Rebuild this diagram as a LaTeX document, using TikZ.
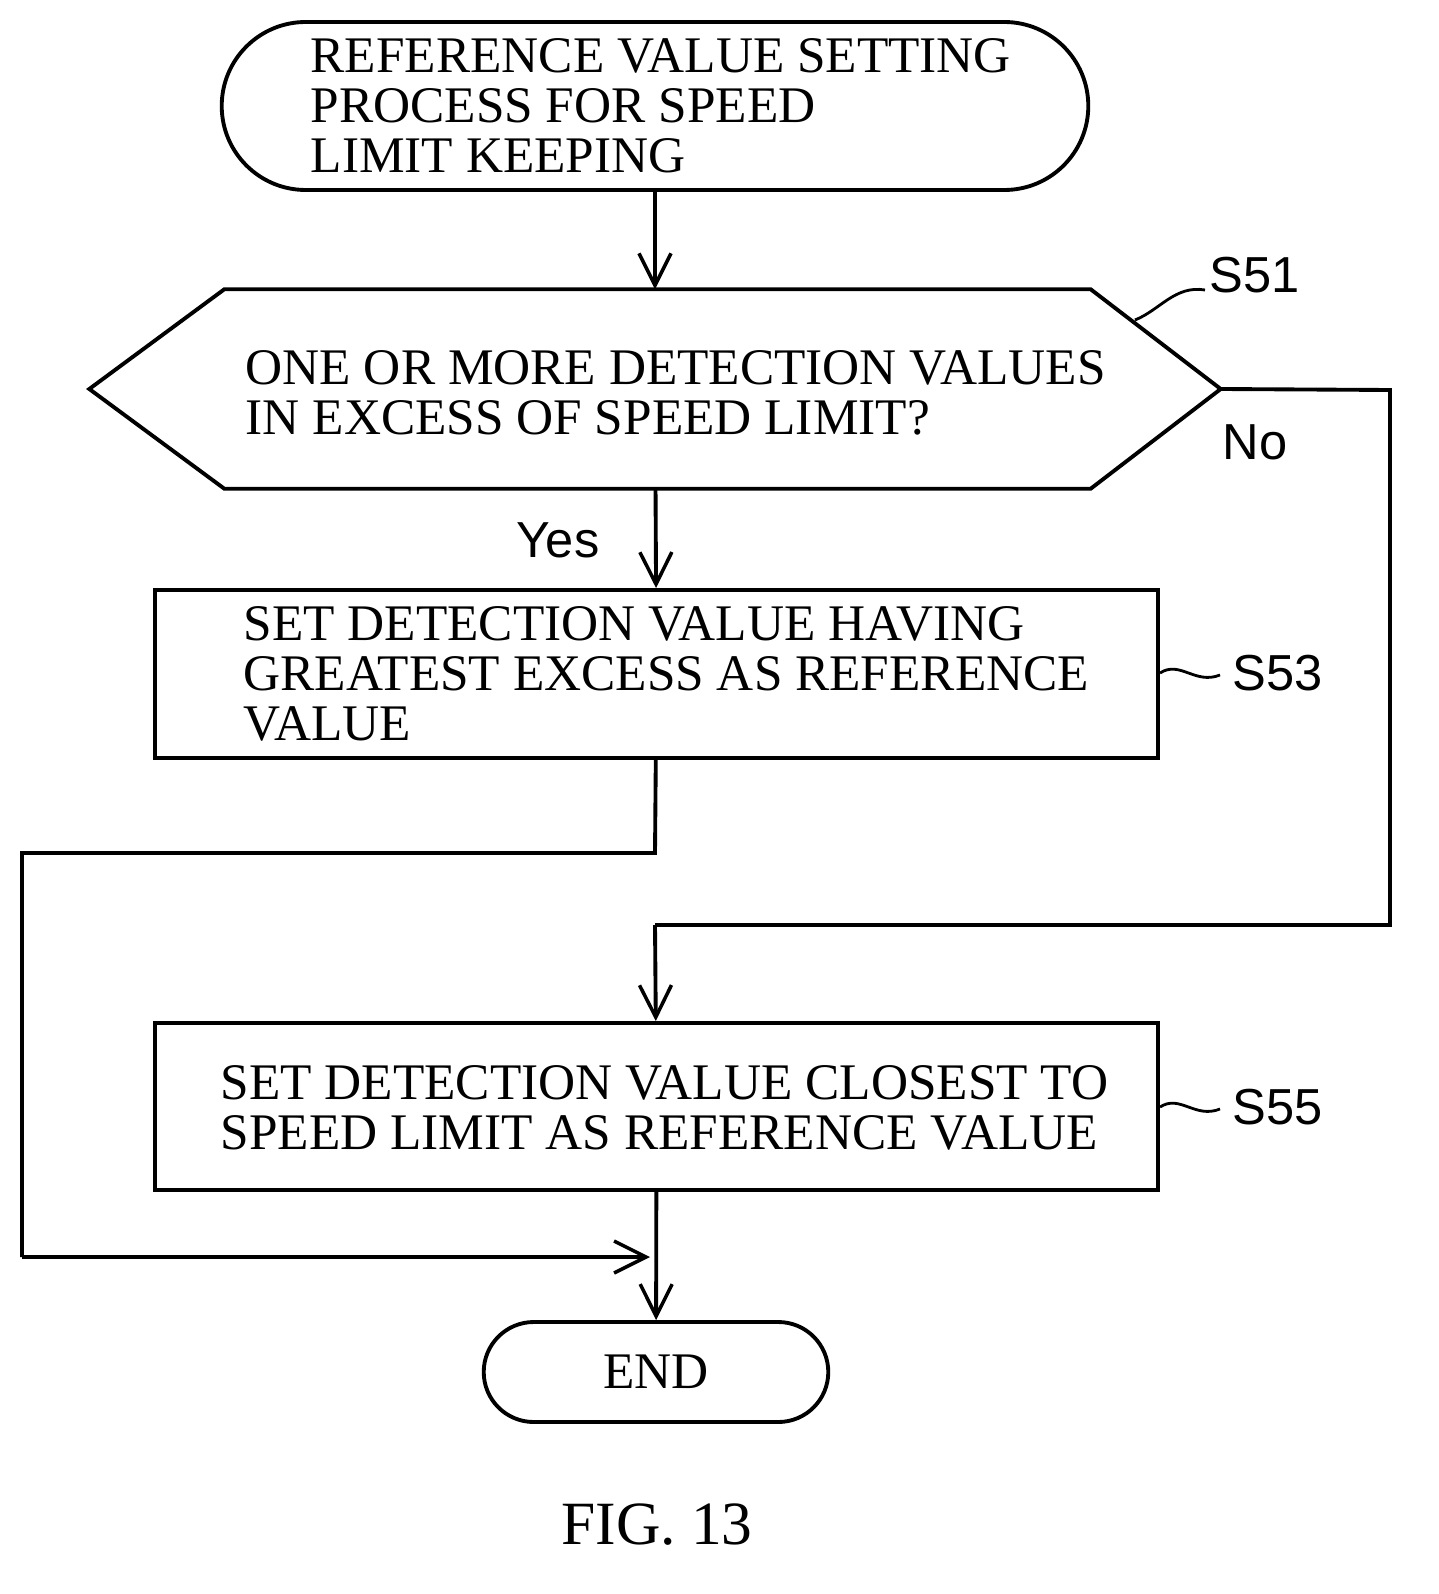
\documentclass[tikz,border=0pt]{standalone}
\usepackage{fontspec}
\setmainfont{Liberation Serif}
\newfontfamily\labfont{Liberation Sans}
\usetikzlibrary{shapes.misc,arrows.meta}
\tikzset{
  flow/.style={draw, line width=1.1pt},
  term/.style={flow, rounded rectangle},
  proc/.style={flow, rectangle},
  txt/.style={anchor=west, align=left, inner sep=0pt, font=\fontsize{14.6}{14.3}\selectfont},
  lab/.style={inner sep=0pt, font=\labfont\fontsize{14.4}{14}\selectfont},
  link/.style={line width=1.1pt, -{Straight Barb[length=3.2mm,width=3.2mm,line width=1pt]}},
}
\begin{document}
\begin{tikzpicture}
			\useasboundingbox (0,0) rectangle (14.38,-15.94);
			% shapes
			\node [term, minimum width=8.9cm, minimum height=1.68cm] (start) at (6.55,-1.06) {};
			\node [minimum width=11.3cm, minimum height=1.98cm, inner sep=0pt] (dec) at (6.55,-3.89) {};
			\draw [line width=1.1pt] (dec.west) -- ([xshift=1.35cm]dec.north west) -- ([xshift=-1.3cm]dec.north east)
				-- (dec.east) -- ([xshift=-1.3cm]dec.south east) -- ([xshift=1.35cm]dec.south west) -- cycle;
			\node [proc, minimum width=10.03cm, minimum height=1.68cm] (s53) at (6.565,-6.74) {};
			\node [proc, minimum width=10.03cm, minimum height=1.67cm] (s55) at (6.565,-11.065) {};
			\node [term, minimum width=3.68cm, minimum height=1.0cm] (end) at (6.56,-13.72) {};
			% texts
			\node [txt] (start-t) at (3.1,-1.06) {REFERENCE VALUE SETTING\\PROCESS FOR SPEED\\LIMIT KEEPING};
			\node [txt] (dec-t) at (2.45,-3.93) {ONE OR MORE DETECTION VALUES\\IN EXCESS OF SPEED LIMIT?};
			\node [txt] (s53-t) at (2.43,-6.74) {SET DETECTION VALUE HAVING\\GREATEST EXCESS AS REFERENCE\\VALUE};
			\node [txt] (s55-t) at (2.2,-11.08) {SET DETECTION VALUE CLOSEST TO\\SPEED LIMIT AS REFERENCE VALUE};
			\node [txt, anchor=center] (end-t) at (end) {END};
			\node [txt, anchor=center, font=\fontsize{17.5}{17}\selectfont] (fig) at (6.57,-15.25) {FIG. 13};
			% step labels
			\node [lab] (l51) at (12.55,-2.75) {S51};
			\node [lab] (l53) at (12.78,-6.73) {S53};
			\node [lab] (l55) at (12.78,-11.07) {S55};
			\node [lab] (no) at (12.55,-4.42) {No};
			\node [lab] (yes) at (5.58,-5.4) {Yes};
			\draw [line width=0.8pt] (11.35,-3.2) .. controls (11.6,-3.1) and (11.75,-2.85) .. (12.05,-2.9);
			\draw [line width=0.8pt] (11.6,-6.73) .. controls (11.8,-6.6) and (11.95,-6.85) .. (12.2,-6.75);
			\draw [line width=0.8pt] (11.6,-11.07) .. controls (11.8,-10.94) and (11.95,-11.19) .. (12.2,-11.09);
			% connectors
			\coordinate (noR) at (13.9,-3.9);
			\coordinate (noJ) at (6.55,-9.25);
			\coordinate (yJ) at (6.55,-8.53);
			\coordinate (yL) at (0.22,-8.53);
			\coordinate (yB) at (0.22,-12.57);
			\coordinate (yE) at (6.50,-12.57);
			\draw [link] (start) -- (dec);
			\draw [link] (dec) -- (s53);
			\draw [line width=1.1pt] (dec.east) -- (noR) |- (noJ);
			\draw [link] (noJ) -- (s55);
			\draw [line width=1.1pt] (s53) -- (yJ) -- (yL) -- (yB);
			\draw [link] (yB) -- (yE);
			\draw [link] (s55) -- (end);
		\end{tikzpicture}
\end{document}
